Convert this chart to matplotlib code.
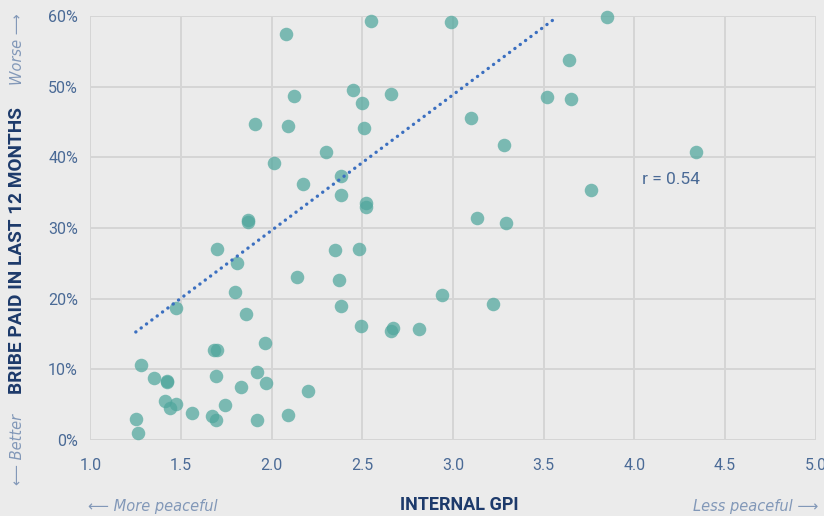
import numpy as np
import matplotlib.pyplot as plt

# internal GPI score vs share who paid a bribe in the last 12 months (%)
gpi = [2.08, 2.55, 2.99, 3.85, 3.64, 3.52, 3.65, 2.12, 2.45, 2.50, 2.66,
       1.91, 2.09, 2.51, 3.10, 3.28, 4.34, 2.30, 2.01, 2.17, 2.38, 2.38,
       2.52, 2.52, 3.76, 1.87, 1.87, 3.13, 3.29, 1.70, 1.81, 1.80, 1.86,
       1.47, 2.14, 2.35, 2.37, 2.48, 2.38, 2.49, 2.67, 2.66, 2.81, 2.94,
       3.22, 1.28, 1.35, 1.42, 1.42, 1.68, 1.70, 1.96, 1.69, 1.92, 1.97,
       1.83, 2.20, 1.41, 1.47, 1.44, 1.56, 1.74, 1.67, 1.69, 1.92, 2.09,
       1.25, 1.26]
bribe = [57.4, 59.3, 59.1, 59.8, 53.8, 48.5, 48.2, 48.7, 49.6, 47.7, 49.0,
         44.7, 44.4, 44.2, 45.5, 41.7, 40.8, 40.8, 39.2, 36.3, 37.3, 34.7,
         33.6, 33.0, 35.4, 31.2, 30.9, 31.4, 30.7, 27.0, 25.0, 20.9, 17.9,
         18.7, 23.1, 26.9, 22.7, 27.0, 19.0, 16.2, 15.8, 15.5, 15.7, 20.6,
         19.3, 10.7, 8.8, 8.4, 8.2, 12.7, 12.8, 13.7, 9.1, 9.6, 8.1,
         7.5, 6.9, 5.6, 5.1, 4.5, 3.8, 5.0, 3.4, 2.8, 2.9, 3.5,
         3.0, 1.0]

trend_x = [1.25, 3.56]
trend_y = [15.3, 59.6]

xticks = [1.0, 1.5, 2.0, 2.5, 3.0, 3.5, 4.0, 4.5, 5.0]
yticks = [0, 10, 20, 30, 40, 50, 60]

bg = '#ebebeb'
navy = '#1d3a6b'
tickc = '#4a6a96'
soft = '#8298b8'

plt.rcParams['font.family'] = ['Roboto', 'DejaVu Sans']

fig = plt.figure(figsize=(8.24, 5.16), dpi=100, facecolor=bg)
ax = fig.add_axes([0.1098, 0.147, 0.880, 0.822], facecolor=bg)

ax.set_xlim(1.0, 5.0)
ax.set_ylim(0, 60)
ax.set_xticks(xticks)
ax.set_yticks(yticks)
ax.set_xticklabels(['%.1f' % v for v in xticks])
ax.set_yticklabels(['%d%%' % v for v in yticks])
ax.grid(True, color='#d5d5d5', lw=1.4)
ax.set_axisbelow(True)
for s in ax.spines.values():
    s.set_visible(False)
ax.tick_params(length=0, colors=tickc, labelsize=11.5)
ax.tick_params(axis='x', pad=13)
ax.tick_params(axis='y', pad=9)

ax.scatter(gpi, bribe, s=95, color='#4fa69d', alpha=0.72, lw=0, zorder=3, clip_on=False)
ax.plot(trend_x, trend_y, ls=(0, (0.05, 1.95)), lw=2.4, color='#3b6fc0',
        dash_capstyle='round', zorder=4)

ax.text(4.04, 36.9, 'r = 0.54', color=tickc, fontsize=12.5, va='center', ha='left')

fig.text(0.557, 0.004, 'INTERNAL GPI', color=navy, fontsize=13, fontweight='bold',
         ha='center', va='bottom')
fig.text(0.107, 0.004, '⟵ More peaceful', color=soft, fontsize=10.5, style='italic',
         ha='left', va='bottom', family=['DejaVu Sans'])
fig.text(0.993, 0.004, 'Less peaceful ⟶', color=soft, fontsize=10.5, style='italic',
         ha='right', va='bottom', family=['DejaVu Sans'])

fig.text(0.021, 0.515, 'BRIBE PAID IN LAST 12 MONTHS', color=navy, fontsize=13.7,
         fontweight='bold', rotation=90, ha='center', va='center')
fig.text(0.021, 0.975, 'Worse ⟶', color=soft, fontsize=10.5, style='italic',
         rotation=90, ha='center', va='top', family=['DejaVu Sans'])
fig.text(0.021, 0.06, '⟵ Better', color=soft, fontsize=10.5, style='italic',
         rotation=90, ha='center', va='bottom', family=['DejaVu Sans'])

fig.savefig('out.png', dpi=100, facecolor=bg)
